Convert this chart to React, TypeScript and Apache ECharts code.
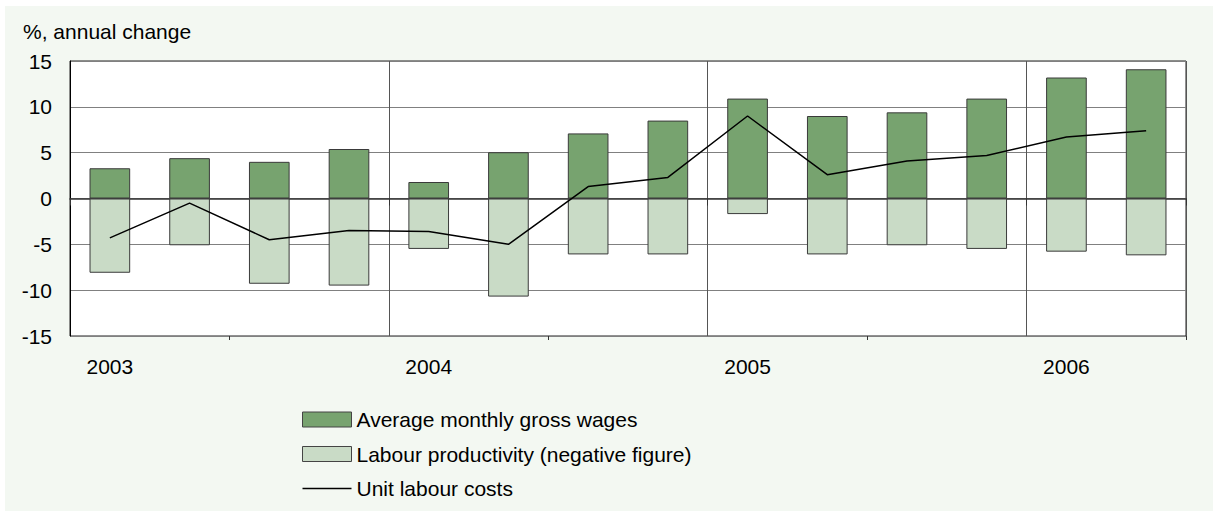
import React, { useEffect, useRef } from "react";
import * as echarts from "echarts";

const categories = ["2003", "", "", "", "2004", "", "", "", "2005", "", "", "", "2006", ""];
const wages = [3.3, 4.4, 4.0, 5.4, 1.8, 5.05, 7.1, 8.5, 10.9, 9.0, 9.4, 10.9, 13.2, 14.1];
const productivity = [-8.1, -5.1, -9.3, -9.5, -5.5, -10.7, -6.1, -6.1, -1.7, -6.1, -5.1, -5.5, -5.8, -6.2];
const unitLabourCosts = [-4.3, -0.5, -4.5, -3.5, -3.6, -5.0, 1.3, 2.3, 9.0, 2.6, 4.1, 4.7, 6.7, 7.4];
const yTicks = { min: -15, max: 15, interval: 5 };
const seriesNames = [
  "Average monthly gross wages",
  "Labour productivity (negative figure)",
  "Unit labour costs",
];

const FONT = "Liberation Sans, Arial, sans-serif";
const FS = 21;

export default function App() {
  const ref = useRef<HTMLDivElement>(null);
  useEffect(() => {
    if (!ref.current) return;
    const chart = echarts.init(ref.current, undefined, { renderer: "svg" });
    chart.setOption({
      animation: false,
      textStyle: { fontFamily: FONT },
      graphic: [
        {
          type: "rect",
          z: -10,
          silent: true,
          shape: { x: 5, y: 6, width: 1208, height: 505 },
          style: { fill: "#f3f8f2" },
        },
      ],
      title: {
        text: "%, annual change",
        left: 23,
        top: 21,
        padding: 0,
        textStyle: { fontSize: FS, fontWeight: "normal", color: "#000", fontFamily: FONT },
      },
      grid: {
        left: 70,
        top: 61,
        width: 1116,
        height: 275,
        show: true,
        backgroundColor: "#ffffff",
        borderColor: "#222",
        borderWidth: 1,
        containLabel: false,
      },
      legend: {
        orient: "vertical",
        left: 302,
        top: 409,
        itemWidth: 49,
        itemHeight: 15,
        itemGap: 13.5,
        padding: 0,
        data: [
          {
            name: seriesNames[0],
            icon: "rect",
            itemStyle: { color: "#77a36f", borderColor: "#444", borderWidth: 1 },
          },
          {
            name: seriesNames[1],
            icon: "rect",
            itemStyle: { color: "#c9dbc6", borderColor: "#444", borderWidth: 1 },
          },
          {
            name: seriesNames[2],
            icon: "path://M0,0H49V1.3H0Z",
            itemStyle: { color: "#000", borderWidth: 0 },
          },
        ],
        textStyle: { fontSize: FS, color: "#000", fontFamily: FONT, lineHeight: 20 },
      },
      xAxis: [
        {
          type: "category",
          data: categories,
          boundaryGap: true,
          axisLine: { show: true, lineStyle: { color: "#333", width: 1.5 } },
          axisTick: {
            show: true,
            interval: (i: number) => i % 4 === 0,
            length: 7,
            lineStyle: { color: "#333" },
          },
          axisLabel: {
            interval: 0,
            margin: 20,
            fontSize: FS,
            color: "#000",
            fontFamily: FONT,
          },
          splitLine: {
            show: true,
            interval: (i: number) => i % 4 === 0,
            lineStyle: { color: "#555", width: 1 },
          },
        },
        {
          type: "category",
          data: categories,
          boundaryGap: true,
          position: "bottom",
          axisLine: { show: false },
          axisTick: {
            show: true,
            interval: (i: number) => i % 4 === 2,
            length: 4,
            lineStyle: { color: "#333" },
          },
          axisLabel: { show: false },
          splitLine: { show: false },
        },
      ],
      yAxis: {
        type: "value",
        min: yTicks.min,
        max: yTicks.max,
        interval: yTicks.interval,
        axisLine: { show: true, lineStyle: { color: "#000", width: 1 } },
        axisTick: { show: false },
        axisLabel: { margin: 18, fontSize: FS, color: "#000", fontFamily: FONT },
        splitLine: { show: true, lineStyle: { color: "#808080", width: 1 } },
      },
      series: [
        {
          name: seriesNames[0],
          type: "bar",
          data: wages,
          barWidth: "51%",
          barGap: "-100%",
          itemStyle: { color: "#77a36f", borderColor: "#3a3a3a", borderWidth: 1 },
          z: 3,
        },
        {
          name: seriesNames[1],
          type: "bar",
          data: productivity,
          barWidth: "51%",
          barGap: "-100%",
          itemStyle: { color: "#c9dbc6", borderColor: "#3a3a3a", borderWidth: 1 },
          z: 3,
        },
        {
          name: seriesNames[2],
          type: "line",
          data: unitLabourCosts,
          symbol: "none",
          lineStyle: { color: "#000", width: 1.5 },
          itemStyle: { color: "#000" },
          z: 5,
        },
      ],
    });
    return () => chart.dispose();
  }, []);
  return (
    <div
      ref={ref}
      style={{ position: "absolute", left: 0, top: 0, width: 1213, height: 513 }}
    />
  );
}
